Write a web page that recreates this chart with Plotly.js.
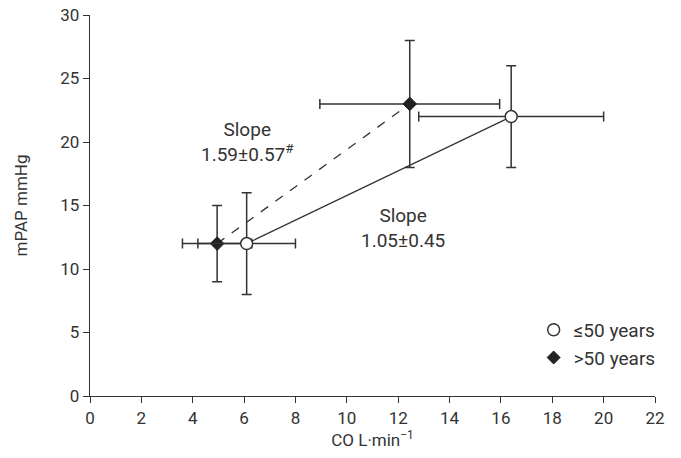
<!DOCTYPE html>
<html><head><meta charset="utf-8">
<script src="https://cdn.plot.ly/plotly-3.0.1.min.js"></script>
<style>body{margin:0;background:#fff}#chart{width:681px;height:458px}</style>
</head><body><div id="chart"></div>
<script>
// Group <=50 years (open circles)
const youngCO = [6.1, 16.4];
const youngPAP = [12, 22];
const youngCOerr = [1.9, 3.6];
const youngPAPerr = [4, 4];
// Group >50 years (filled diamonds)
const oldCO = [4.95, 12.45];
const oldPAP = [12, 23];
const oldCOerr = [1.35, 3.5];
const oldPAPerr = [3, 5];
const seriesNames = ['≤50 years', '>50 years'];
const slopeLabels = ['Slope<br>1.59±0.57<sup>#</sup>', 'Slope<br>1.05±0.45'];
const xTicks = [0,2,4,6,8,10,12,14,16,18,20,22];
const yTicks = [0,5,10,15,20,25,30];

const ink = '#333333';
const fontFam = 'Roboto, "DejaVu Sans", sans-serif';

const traces = [
  {x: oldCO, y: oldPAP, mode: 'lines+markers', showlegend: false,
   line: {color: ink, width: 1.3, dash: 'dash'},
   marker: {symbol: 'diamond', size: 10.5, color: '#222', line: {color: '#222', width: 1}},
   error_x: {type: 'data', array: oldCOerr, color: ink, thickness: 1.5, width: 5},
   error_y: {type: 'data', array: oldPAPerr, color: ink, thickness: 1.5, width: 5}},
  {x: youngCO, y: youngPAP, mode: 'lines+markers', showlegend: false,
   line: {color: ink, width: 1.3},
   marker: {symbol: 'circle', size: 12, color: '#fff', line: {color: ink, width: 1.5}},
   error_x: {type: 'data', array: youngCOerr, color: ink, thickness: 1.5, width: 5},
   error_y: {type: 'data', array: youngPAPerr, color: ink, thickness: 1.5, width: 5}},
  {x: [null], y: [null], mode: 'markers', name: seriesNames[0],
   marker: {symbol: 'circle', size: 12, color: '#fff', line: {color: ink, width: 1.5}}},
  {x: [null], y: [null], mode: 'markers', name: seriesNames[1],
   marker: {symbol: 'diamond', size: 10, color: '#222', line: {color: '#222', width: 1}}}
];

const layout = {
  width: 681, height: 458,
  margin: {l: 90, r: 26, t: 15, b: 62},
  paper_bgcolor: '#fff', plot_bgcolor: '#fff',
  font: {family: fontFam, size: 17, color: ink},
  showlegend: true,
  legend: {x: 1.01, y: 0.05, xanchor: 'right', yanchor: 'bottom', bgcolor: 'rgba(0,0,0,0)',
           font: {size: 19, color: ink}, itemwidth: 30, tracegroupgap: 0},
  xaxis: {range: [0, 22], tickvals: xTicks, ticks: 'outside', ticklen: 6, tickcolor: ink,
          showline: true, linecolor: ink, linewidth: 1.3, showgrid: false, zeroline: false,
          tickfont: {size: 17},
          fixedrange: true, title: {text: 'CO L·min<sup>−1</sup>', font: {size: 17}, standoff: 6}},
  yaxis: {range: [0, 30], tickvals: yTicks, ticks: 'outside', ticklen: 6, tickcolor: ink,
          showline: true, linecolor: ink, linewidth: 1.3, showgrid: false, zeroline: false,
          tickfont: {size: 17},
          fixedrange: true, title: {text: 'mPAP mmHg', font: {size: 17}, standoff: 28}},
  annotations: [
    {x: 6.15, y: 20, xref: 'x', yref: 'y', text: slopeLabels[0], showarrow: false,
     font: {size: 19, color: ink}, align: 'center'},
    {x: 12.2, y: 13.2, xref: 'x', yref: 'y', text: slopeLabels[1], showarrow: false,
     font: {size: 19, color: ink}, align: 'center'}
  ]
};
Plotly.newPlot('chart', traces, layout, {displayModeBar: false, staticPlot: true});
</script></body></html>
